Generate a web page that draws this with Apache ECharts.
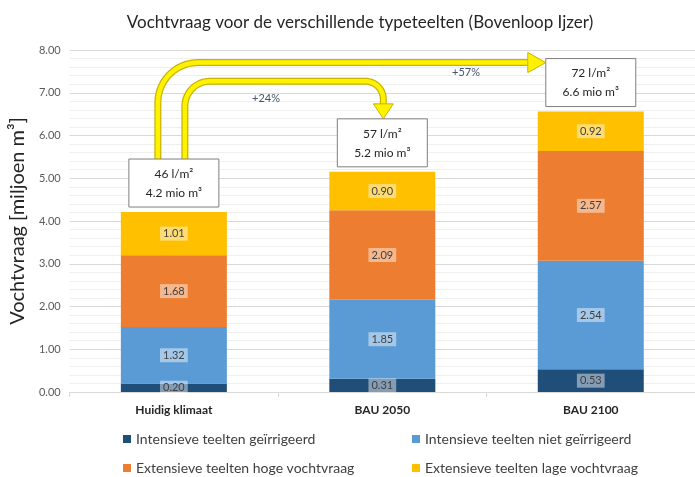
<!DOCTYPE html>
<html>
<head>
<meta charset="utf-8">
<script src="https://cdn.jsdelivr.net/npm/echarts@6/dist/echarts.min.js"></script>
<style>
  html, body { margin: 0; padding: 0; background: #fff; }
  #main { width: 695px; height: 477px; }
</style>
</head>
<body>
<div id="main"></div>
<script>
// data
var categories = ['Huidig klimaat', 'BAU 2050', 'BAU 2100'];
var seriesNames = [
  'Intensieve teelten geïrrigeerd',
  'Intensieve teelten niet geïrrigeerd',
  'Extensieve teelten hoge vochtvraag',
  'Extensieve teelten lage vochtvraag'
];
var intGeirrigeerd = [0.20, 0.31, 0.53];
var intNietGeirrigeerd = [1.32, 1.85, 2.54];
var extHoog = [1.68, 2.09, 2.57];
var extLaag = [1.01, 0.90, 0.92];
var perM2 = ['46 l/m²', '57 l/m²', '72 l/m²'];
var volume = ['4.2 mio m³', '5.2 mio m³', '6.6 mio m³'];
var increases = ['+24%', '+57%'];

var colors = ['#1F4E79', '#5B9BD5', '#ED7D31', '#FFC000'];
var font = 'Lato, "Noto Sans", sans-serif';

var chart = echarts.init(document.getElementById('main'));

function barSeries(name, data, i) {
  return {
    name: name,
    type: 'bar',
    stack: 'total',
    barWidth: 106,
    data: data,
    itemStyle: { color: colors[i] },
    label: {
      show: true,
      position: 'inside',
      formatter: function (p) { return p.value.toFixed(2); },
      fontFamily: font,
      fontSize: 11,
      color: '#404040',
      backgroundColor: 'rgba(255,255,255,0.45)',
      padding: [2, 3, 1, 3]
    }
  };
}

var legendText = { fontFamily: font, fontSize: 14, color: '#404040' };

var option = {
  animation: false,
  color: colors,
  title: {
    text: 'Vochtvraag voor de verschillende typeteelten (Bovenloop Ijzer)',
    left: 355,
    textAlign: 'center',
    top: 9,
    textStyle: { fontFamily: font, fontSize: 17, fontWeight: 'normal', color: '#262626' }
  },
  legend: [{
    data: [seriesNames[0]], left: 118, top: 427,
    icon: 'rect', itemWidth: 8, itemHeight: 8, itemGap: 6, textStyle: legendText
  }, {
    data: [seriesNames[2]], left: 118, top: 456,
    icon: 'rect', itemWidth: 8, itemHeight: 8, itemGap: 6, textStyle: legendText
  }, {
    data: [seriesNames[1]], left: 407, top: 427,
    icon: 'rect', itemWidth: 8, itemHeight: 8, itemGap: 6, textStyle: legendText
  }, {
    data: [seriesNames[3]], left: 407, top: 456,
    icon: 'rect', itemWidth: 8, itemHeight: 8, itemGap: 6, textStyle: legendText
  }],
  grid: { left: 65, top: 50, width: 639, height: 342 },
  xAxis: {
    type: 'category',
    data: categories,
    axisLine: { lineStyle: { color: '#d9d9d9' } },
    axisTick: { show: true, length: 5, lineStyle: { color: '#d9d9d9' } },
    axisLabel: { margin: 12, fontFamily: font, fontSize: 12, fontWeight: 'bold', color: '#262626' }
  },
  yAxis: {
    type: 'value',
    min: 0, max: 8, interval: 1,
    name: 'Vochtvraag [miljoen m³]',
    nameLocation: 'middle',
    nameGap: 37,
    nameTextStyle: { fontFamily: font, fontSize: 20, color: '#262626' },
    axisLine: { show: false },
    axisTick: { show: false },
    axisLabel: {
      margin: 9, fontFamily: font, fontSize: 11, color: '#595959',
      formatter: function (v) { return v.toFixed(2); }
    },
    splitLine: { lineStyle: { color: '#d9d9d9' } },
    minorTick: { show: false, splitNumber: 5 },
    minorSplitLine: { show: true, lineStyle: { color: '#efefef' } }
  },
  series: [
    barSeries(seriesNames[0], intGeirrigeerd, 0),
    barSeries(seriesNames[1], intNietGeirrigeerd, 1),
    barSeries(seriesNames[2], extHoog, 2),
    barSeries(seriesNames[3], extLaag, 3)
  ]
};
chart.setOption(option);

// annotations placed through the chart's own scales
var totals = categories.map(function (c, i) {
  return intGeirrigeerd[i] + intNietGeirrigeerd[i] + extHoog[i] + extLaag[i];
});
var boxW = 90, boxH = 48, boxGap = 5;
var graphics = [];
var boxes = totals.map(function (t, i) {
  var p = chart.convertToPixel({ gridIndex: 0 }, [i, t]);
  var b = { x: p[0] - boxW / 2, y: p[1] - boxGap - boxH, cx: p[0] };
  graphics.push({
    type: 'rect', z: 10,
    shape: { x: b.x, y: b.y, width: boxW, height: boxH },
    style: { fill: '#fff', stroke: '#7f7f7f', lineWidth: 1 }
  });
  graphics.push({
    type: 'text', z: 11, x: p[0], y: b.y + 15,
    style: { text: perM2[i], fontFamily: font, fontSize: 12, fill: '#262626', align: 'center', verticalAlign: 'middle' }
  });
  graphics.push({
    type: 'text', z: 11, x: p[0], y: b.y + 34,
    style: { text: volume[i], fontFamily: font, fontSize: 12, fill: '#262626', align: 'center', verticalAlign: 'middle' }
  });
  return b;
});

function arc(cx, cy, r, a0, a1) {
  var pts = [];
  for (var k = 0; k <= 12; k++) {
    var a = a0 + (a1 - a0) * k / 12;
    pts.push([cx + r * Math.cos(a), cy + r * Math.sin(a)]);
  }
  return pts;
}

function arrow(points, head) {
  graphics.push({ type: 'polyline', z: 5, shape: { points: points }, style: { stroke: '#C8B400', lineWidth: 7, lineJoin: 'round' } });
  graphics.push({ type: 'polyline', z: 6, shape: { points: points }, style: { stroke: '#FFF200', lineWidth: 4.5, lineJoin: 'round' } });
  graphics.push({ type: 'polygon', z: 7, shape: { points: head }, style: { fill: '#FFF200', stroke: '#C8B400', lineWidth: 1 } });
}

var PI = Math.PI;
// outer arrow: Huidig -> BAU 2100
var y0 = boxes[0].y;
var x0 = boxes[0].cx - 16, r1 = 40;
var tipX = boxes[2].x;
var yOuter = boxes[2].y + 4;
arrow([[x0, y0]].concat(arc(x0 + r1, yOuter + r1, r1, PI, 1.5 * PI), [[tipX - 17, yOuter]]),
  [[tipX - 18, yOuter - 10], [tipX, yOuter], [tipX - 18, yOuter + 10]]);

// inner arrow: Huidig -> BAU 2050
var yInner = chart.convertToPixel({ gridIndex: 0 }, [0, 7.27])[1];
var x1 = boxes[0].cx + 11, r2 = 25, r3 = 18;
var xDown = boxes[1].cx + 1, tipY = boxes[1].y;
arrow([[x1, y0]].concat(
    arc(x1 + r2, yInner + r2, r2, PI, 1.5 * PI),
    arc(xDown - r3, yInner + r3, r3, 1.5 * PI, 2 * PI),
    [[xDown, tipY - 14]]),
  [[xDown - 10, tipY - 15], [xDown, tipY], [xDown + 10, tipY - 15]]);

graphics.push({
  type: 'text', z: 11, x: 266, y: yInner + 17,
  style: { text: increases[0], fontFamily: font, fontSize: 11, fill: '#44546A', align: 'center', verticalAlign: 'middle' }
});
graphics.push({
  type: 'text', z: 11, x: 466, y: yOuter + 10,
  style: { text: increases[1], fontFamily: font, fontSize: 11, fill: '#44546A', align: 'center', verticalAlign: 'middle' }
});

chart.setOption({ graphic: graphics });
</script>
</body>
</html>
